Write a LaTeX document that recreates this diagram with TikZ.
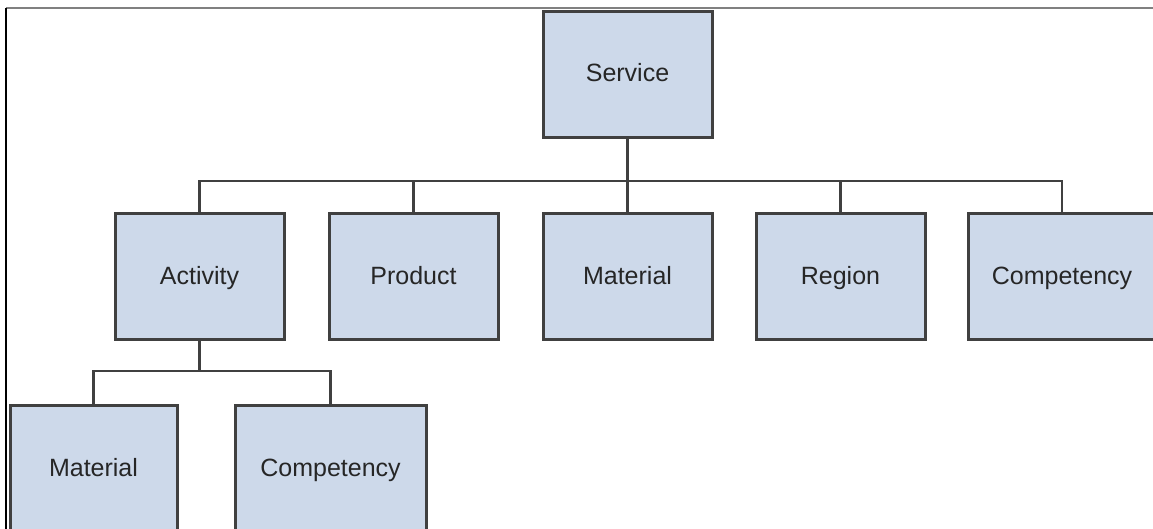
\documentclass[tikz,border=0pt]{standalone}
\usepackage{fontspec}
\setmainfont{Liberation Sans}
\definecolor{boxfill}{RGB}{205,217,234}
\definecolor{boxline}{RGB}{64,64,64}
\tikzset{
  unit/.style={draw=boxline, line width=3pt, fill=boxfill, minimum width=169pt,
    minimum height=126pt, inner sep=0pt, text=black!85,
    text height=19pt, text depth=4pt,
    font=\fontsize{25}{30}\selectfont},
  link/.style={draw=boxline, line width=2.7pt},
}
\begin{document}
\begin{tikzpicture}[x=1pt,y=-1pt]
\useasboundingbox (0,0) rectangle (1153,529);
\clip (0,0) rectangle (1153,529);
\draw[gray, line width=2pt] (6,8) -- (1153,8);
\draw[black, line width=2pt] (6,8) -- (6,529);
% top level
\node[unit] (svc) at (627.5,74.5){Service};
\coordinate (jsvc) at (627.5,181);
% second row
\node[unit] (act) at (199.5,276.5){Activity};
\node[unit] (prod) at (413.5,276.5){Product};
\node[unit] (mat) at (627.5,276.5){Material};
\node[unit] (reg) at (840.5,276.5){Region};
\node[unit, minimum width=188pt] (comp) at (1062,276.5){Competency};
\draw[link, line width=3.2pt] (svc.south) -- (jsvc);
\foreach \c in {act,prod,mat,reg,comp}
  \draw[link] (jsvc) -| (\c.north);
% under activity
\coordinate (jact) at (199.5,371);
\node[unit, minimum width=167pt] (submat) at (93.5,468.5){Material};
\node[unit, minimum width=191pt] (subcomp) at (330.5,468.5){Competency};
\draw[link, line width=3.2pt] (act.south) -- (jact);
\foreach \c in {submat,subcomp}
  \draw[link] (jact) -| (\c.north);
\end{tikzpicture}
\end{document}
